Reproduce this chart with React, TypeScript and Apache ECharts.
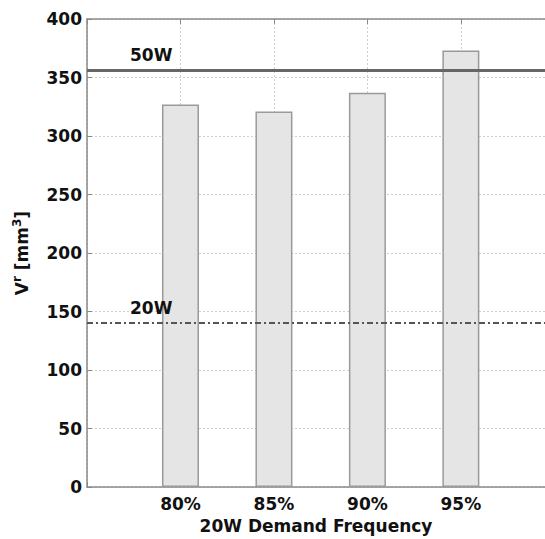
import React, { useEffect, useRef } from "react";
import * as echarts from "echarts";

const categories = [80, 85, 90, 95];
const values = [327, 321, 337, 373];
const line50W = 356;
const line20W = 140;
const yTicks = [0, 50, 100, 150, 200, 250, 300, 350, 400];

export default function App() {
  const ref = useRef<HTMLDivElement>(null);
  useEffect(() => {
    if (!ref.current) return;
    const chart = echarts.init(ref.current, null, { renderer: "svg" });
    const font = "'DejaVu Sans', Arial, Helvetica, sans-serif";
    const axisColor = "#8a8a8a";
    const labelStyle = { fontFamily: font, fontWeight: "bold", fontSize: 17, color: "#111" };
    chart.setOption({
      animation: false,
      backgroundColor: "#ffffff",
      textStyle: { fontFamily: font },
      grid: { left: 87, top: 19, right: 0, bottom: 48 },
      xAxis: [
        {
          type: "value",
          min: 75,
          max: 99.5,
          interval: 5,
          name: "20W Demand Frequency",
          nameLocation: "middle",
          nameGap: 30,
          nameTextStyle: { ...labelStyle },
          axisLine: { show: true, lineStyle: { color: axisColor, width: 1.5 } },
          axisTick: { show: true, inside: true, length: 5, lineStyle: { color: axisColor } },
          axisLabel: {
            ...labelStyle,
            margin: 8,
            showMaxLabel: false,
            formatter: (v: number) => (categories.includes(v) ? `${v}%` : ""),
          },
          splitLine: { show: true, lineStyle: { color: "#cfcfcf", type: [2, 2], width: 1 } },
        },
        {
          type: "value",
          position: "top",
          min: 75,
          max: 99.5,
          interval: 5,
          axisLine: { show: true, lineStyle: { color: axisColor, width: 1.5 } },
          axisTick: { show: true, inside: true, length: 5, lineStyle: { color: axisColor } },
          axisLabel: { show: false },
          splitLine: { show: false },
        },
      ],
      yAxis: {
        type: "value",
        min: 0,
        max: 400,
        interval: 50,
        name: "V{sup|r} [mm{sup|3}]",
        nameLocation: "middle",
        nameGap: 55,
        nameRotate: 90,
        nameTextStyle: {
          ...labelStyle,
          rich: {
            sup: { fontFamily: font, fontWeight: "bold", fontSize: 12, color: "#111", verticalAlign: "top", padding: [0, 0, 9, 0] },
          },
        },
        axisLine: { show: true, lineStyle: { color: axisColor, width: 1.5 } },
        axisTick: { show: true, inside: true, length: 5, lineStyle: { color: axisColor } },
        axisLabel: {
          ...labelStyle,
          margin: 5,
          formatter: (v: number) => (yTicks.includes(v) ? String(v) : ""),
        },
        splitLine: { show: true, lineStyle: { color: "#cfcfcf", type: [2, 2], width: 1 } },
      },
      series: [
        {
          type: "bar",
          data: categories.map((c, i) => [c, values[i]]),
          barWidth: 37,
          itemStyle: { color: "#e5e5e5", borderColor: "#9a9a9a", borderWidth: 1.5 },
          markLine: {
            silent: true,
            symbol: "none",
            data: [
              {
                yAxis: line50W,
                lineStyle: { color: "#666", width: 3, type: "solid" },
                label: { formatter: "50W" },
              },
              {
                yAxis: line20W,
                lineStyle: { color: "#555", width: 2, type: [6, 3, 2, 3] },
                label: { formatter: "20W" },
              },
            ],
            label: {
              show: true,
              position: "insideStartTop",
              distance: [43, 7],
              ...labelStyle,
            },
          },
        },
      ],
    });
    return () => chart.dispose();
  }, []);
  return (
    <div
      ref={ref}
      style={{ position: "fixed", left: 0, top: 0, width: 545, height: 539, background: "#fff" }}
    />
  );
}
